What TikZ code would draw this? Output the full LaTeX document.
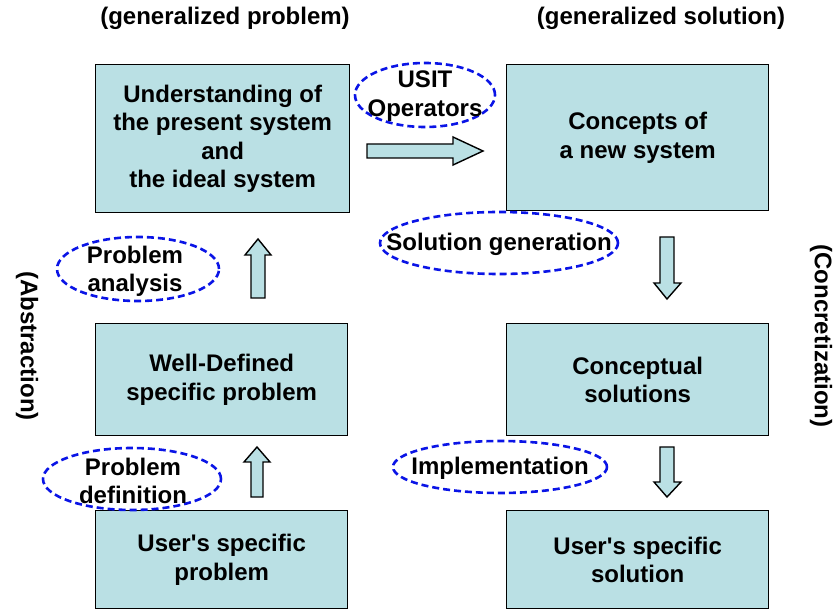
\documentclass[tikz,border=0pt]{standalone}
\usepackage{fontspec}
\setmainfont{Liberation Sans}
\usetikzlibrary{shapes.geometric}
\definecolor{boxfill}{RGB}{186,224,228}
\definecolor{ovalblue}{RGB}{10,20,230}
\begin{document}
\begin{tikzpicture}[x=1pt,y=-1pt,
  font=\fontsize{24}{28.3}\selectfont\bfseries,
  stagebox/.style={draw=black,line width=1.4pt,fill=boxfill,align=center,anchor=north west,inner sep=0pt},
  oval/.style={ellipse,draw=ovalblue,line width=2.6pt,dash pattern=on 7pt off 4pt,inner sep=0pt},
  ovaltext/.style={align=center,inner sep=0pt},
  blockarrow/.style={draw=black,line width=1.4pt,fill=boxfill,line join=miter}]
\useasboundingbox (0,0) rectangle (833,609);

% stage boxes
\node[stagebox,minimum width=254,minimum height=148] (ideal) at (95,64)
  {Understanding of\\the present system\\and\\the ideal system};
\node[stagebox,minimum width=262,minimum height=146] (concepts) at (506,64)
  {Concepts of\\a new system};
\node[stagebox,minimum width=252,minimum height=112] (welldef) at (95,323)
  {Well-Defined\\specific problem};
\node[stagebox,minimum width=262,minimum height=112] (concsol) at (506,323)
  {Conceptual\\solutions};
\node[stagebox,minimum width=252,minimum height=98] (userprob) at (95,510)
  {User\textquotesingle s specific\\problem};
\node[stagebox,minimum width=262,minimum height=98] (usersol) at (506,510)
  {User\textquotesingle s specific\\solution};

% column headings
\node (genprob) at (225,18) {(generalized problem)};
\node (gensol) at (661,18) {(generalized solution)};
\node[rotate=-90] (abstr) at (27,346) {(Abstraction)};
\node[rotate=-90] (concr) at (821,336) {(Concretization)};

% block arrows between stages
\draw[blockarrow] (367,144) -- (453,144) -- (453,137) -- (483,151)
  -- (453,165) -- (453,158) -- (367,158) -- cycle;
\draw[blockarrow] (251,298) -- (251,255) -- (245,255) -- (258,239)
  -- (271,255) -- (265,255) -- (265,298) -- cycle;
\draw[blockarrow] (251,497) -- (251,462) -- (244,462) -- (257,447)
  -- (270,462) -- (263,462) -- (263,497) -- cycle;
\draw[blockarrow] (660,237) -- (660,283) -- (654,283) -- (667,299)
  -- (681,283) -- (674,283) -- (674,237) -- cycle;
\draw[blockarrow] (660,447) -- (660,482) -- (654,482) -- (667,497)
  -- (681,482) -- (674,482) -- (674,447) -- cycle;

% dashed outlines of the step labels
\node[oval,minimum width=140,minimum height=64] (usit) at (425,95) {};
\node[oval,minimum width=162,minimum height=64] (analysis) at (138,269) {};
\node[oval,minimum width=238,minimum height=62] (solgen) at (499,243) {};
\node[oval,minimum width=178,minimum height=62] (definition) at (132,479) {};
\node[oval,minimum width=214,minimum height=52] (impl) at (500,467) {};

% step label texts
\node[ovaltext] (usittxt) at (425,96) {USIT\\Operators};
\node[ovaltext] (analysistxt) at (135,271) {Problem\\analysis};
\node[ovaltext] (solgentxt) at (499,244) {Solution generation};
\node[ovaltext] (definitiontxt) at (133,481) {Problem\\definition};
\node[ovaltext] (impltxt) at (500,468) {Implementation};
\end{tikzpicture}
\end{document}
